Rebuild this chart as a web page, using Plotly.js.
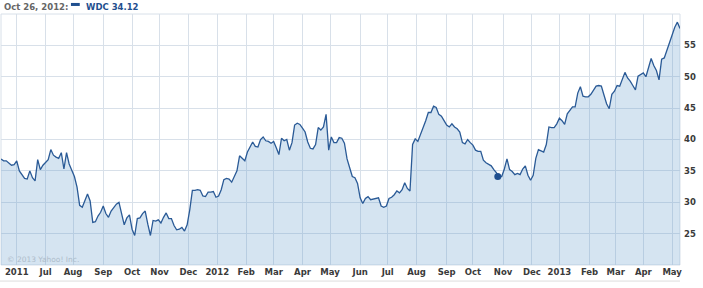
<!DOCTYPE html>
<html>
<head>
<meta charset="utf-8">
<script src="https://cdn.plot.ly/plotly-3.0.1.min.js"></script>
<style>
  html, body { margin: 0; padding: 0; background: #fff; }
  #chart { width: 703px; height: 288px; }
</style>
</head>
<body>
<div id="chart"></div>
<script>
// ---- data ----
const symbol = 'WDC';
const hoverDate = '2012-10-26';
const hoverLabel = 'Oct 26, 2012:';
const hoverValue = 34.12;

const dates = [
  '2011-05-16','2011-05-18','2011-05-20','2011-05-24','2011-05-26','2011-05-30',
  '2011-06-01','2011-06-03','2011-06-07','2011-06-09','2011-06-13',
  '2011-06-15','2011-06-17','2011-06-21','2011-06-23','2011-06-27',
  '2011-06-29','2011-07-01','2011-07-05','2011-07-07','2011-07-11',
  '2011-07-13','2011-07-15','2011-07-19','2011-07-21','2011-07-25',
  '2011-07-27','2011-07-29','2011-08-02','2011-08-04','2011-08-08',
  '2011-08-10','2011-08-12','2011-08-16','2011-08-18','2011-08-22',
  '2011-08-24','2011-08-26','2011-08-30','2011-09-01','2011-09-05',
  '2011-09-07','2011-09-09','2011-09-13','2011-09-15','2011-09-19',
  '2011-09-21','2011-09-23','2011-09-27','2011-09-29','2011-10-03',
  '2011-10-05','2011-10-07','2011-10-11','2011-10-13','2011-10-17',
  '2011-10-19','2011-10-21','2011-10-25','2011-10-27','2011-10-31',
  '2011-11-02','2011-11-04','2011-11-08','2011-11-10','2011-11-14',
  '2011-11-16','2011-11-18','2011-11-22','2011-11-24','2011-11-28',
  '2011-11-30','2011-12-02','2011-12-06','2011-12-08','2011-12-12',
  '2011-12-14','2011-12-16','2011-12-20','2011-12-22','2011-12-26',
  '2011-12-28','2011-12-30','2012-01-03','2012-01-05','2012-01-09',
  '2012-01-11','2012-01-13','2012-01-17','2012-01-19','2012-01-23',
  '2012-01-25','2012-01-27','2012-01-31','2012-02-02','2012-02-06',
  '2012-02-08','2012-02-10','2012-02-14','2012-02-16','2012-02-20',
  '2012-02-22','2012-02-24','2012-02-28','2012-03-01','2012-03-05',
  '2012-03-07','2012-03-09','2012-03-13','2012-03-15','2012-03-19',
  '2012-03-21','2012-03-23','2012-03-27','2012-03-29','2012-04-02',
  '2012-04-04','2012-04-06','2012-04-10','2012-04-12','2012-04-16',
  '2012-04-18','2012-04-20','2012-04-24','2012-04-26','2012-04-30',
  '2012-05-02','2012-05-04','2012-05-08','2012-05-10','2012-05-14',
  '2012-05-16','2012-05-18','2012-05-22','2012-05-24','2012-05-28',
  '2012-05-30','2012-06-01','2012-06-05','2012-06-07','2012-06-11',
  '2012-06-13','2012-06-15','2012-06-19','2012-06-21','2012-06-25',
  '2012-06-27','2012-06-29','2012-07-03','2012-07-05','2012-07-09',
  '2012-07-11','2012-07-13','2012-07-17','2012-07-19','2012-07-23',
  '2012-07-25','2012-07-27','2012-07-31','2012-08-02','2012-08-06',
  '2012-08-08','2012-08-10','2012-08-14','2012-08-16','2012-08-20',
  '2012-08-22','2012-08-24','2012-08-28','2012-08-30','2012-09-03',
  '2012-09-05','2012-09-07','2012-09-11','2012-09-13','2012-09-17',
  '2012-09-19','2012-09-21','2012-09-25','2012-09-27','2012-10-01',
  '2012-10-03','2012-10-05','2012-10-09','2012-10-11','2012-10-15',
  '2012-10-17','2012-10-19','2012-10-23','2012-10-25','2012-10-26',
  '2012-10-31','2012-11-02','2012-11-06','2012-11-08','2012-11-12',
  '2012-11-14','2012-11-16','2012-11-20','2012-11-22','2012-11-26',
  '2012-11-28','2012-11-30','2012-12-04','2012-12-06','2012-12-10',
  '2012-12-12','2012-12-14','2012-12-18','2012-12-20','2012-12-24',
  '2012-12-26','2012-12-28','2013-01-01','2013-01-03','2013-01-07',
  '2013-01-09','2013-01-11','2013-01-15','2013-01-17','2013-01-21',
  '2013-01-23','2013-01-25','2013-01-29','2013-01-31','2013-02-04',
  '2013-02-06','2013-02-08','2013-02-12','2013-02-14','2013-02-18',
  '2013-02-20','2013-02-22','2013-02-26','2013-02-28','2013-03-04',
  '2013-03-06','2013-03-08','2013-03-12','2013-03-14','2013-03-18',
  '2013-03-20','2013-03-22','2013-03-26','2013-03-28','2013-04-01',
  '2013-04-03','2013-04-05','2013-04-09','2013-04-11','2013-04-15',
  '2013-04-17','2013-04-19','2013-04-23','2013-04-25','2013-04-29',
  '2013-05-01','2013-05-03','2013-05-07','2013-05-09'
];

const prices = [
  36.9,36.6,36.6,36.2,35.9,36.0,
  36.6,35.0,34.4,33.8,33.7,
  35.0,33.9,33.4,36.8,35.2,
  35.9,36.4,36.8,38.4,37.5,
  37.2,37.0,37.9,35.3,37.9,
  36.1,35.1,34.1,32.4,29.5,
  29.2,30.4,31.3,30.2,26.8,
  26.9,27.8,28.4,29.4,28.2,
  27.6,28.6,29.1,29.7,30.0,
  27.9,26.4,27.5,28.0,25.7,
  24.7,27.4,27.5,28.2,28.6,
  26.5,24.7,27.1,27.0,27.2,
  26.7,27.6,28.3,27.4,27.4,
  26.3,25.6,25.7,26.0,25.4,
  26.4,28.8,31.9,31.9,32.0,
  31.9,31.0,30.9,31.6,31.6,
  31.7,30.8,31.0,32.0,33.6,
  33.8,33.7,33.2,34.0,35.0,
  37.4,37.0,36.6,38.0,38.7,
  39.6,38.9,38.8,40.0,40.4,
  39.8,39.7,39.4,39.7,38.7,
  37.6,40.2,39.8,40.0,38.3,
  39.5,42.3,42.6,42.4,41.8,
  41.2,39.6,38.6,38.5,39.2,
  41.9,41.5,42.0,44.0,38.3,
  40.4,39.5,39.5,40.3,40.2,
  39.4,36.9,35.5,34.1,33.9,
  33.0,30.7,29.8,30.6,30.9,
  30.4,30.5,30.6,30.7,29.4,
  29.2,29.4,30.6,30.8,31.2,
  31.8,31.5,32.0,33.1,32.2,
  31.8,39.2,40.1,39.7,40.8,
  41.6,43.0,44.3,44.3,45.3,
  45.1,44.0,43.7,43.0,42.3,
  42.0,42.5,42.0,41.7,41.2,
  39.5,39.3,40.0,39.5,39.1,
  38.3,38.1,38.1,36.7,36.3,
  36.0,35.8,35.2,34.7,34.12,
  34.1,35.3,36.9,35.2,34.9,
  34.4,34.6,34.4,35.3,35.8,
  34.3,33.5,34.3,37.0,38.4,
  38.2,38.0,39.2,42.0,41.9,
  41.9,42.5,43.4,43.0,42.4,
  44.1,44.7,45.2,45.2,47.4,
  48.4,46.9,46.8,46.8,47.2,
  47.8,48.5,48.6,48.5,47.1,
  45.7,44.9,47.2,47.7,48.6,
  48.5,49.6,50.7,49.8,49.3,
  48.6,47.9,50.1,50.3,50.6,
  50.0,51.3,52.9,51.8,51.0,
  49.5,52.8,53.0,54.2,55.3,
  56.5,57.9,58.7,57.7
];

const tickDates = [
  '2011-06-01','2011-07-01','2011-08-01','2011-09-01','2011-10-03','2011-11-01',
  '2011-12-01','2012-01-02','2012-02-01','2012-03-01','2012-04-02','2012-05-01',
  '2012-06-01','2012-07-02','2012-08-01','2012-09-03','2012-10-01','2012-11-01',
  '2012-12-03','2013-01-01','2013-02-01','2013-03-01','2013-04-01','2013-05-01'
];
const tickLabels = [
  '2011','Jul','Aug','Sep','Oct','Nov','Dec','2012','Feb','Mar','Apr','May',
  'Jun','Jul','Aug','Sep','Oct','Nov','Dec','2013','Feb','Mar','Apr','May'
];
const yTicks = [25, 30, 35, 40, 45, 50, 55];

// ---- styling ----
const lineColor = '#2a5a96';
const gridColor = '#d8e0e9';
const labelFont = { family: 'DejaVu Sans, Verdana, sans-serif', size: 8.5, color: '#3a3a3a', weight: 'bold' };

const traces = [
  {
    type: 'scatter', mode: 'lines',
    x: dates, y: prices,
    line: { color: lineColor, width: 1.3 },
    fill: 'tozeroy', fillcolor: 'rgba(100,155,205,0.27)',
    hoverinfo: 'skip'
  },
  {
    type: 'scatter', mode: 'markers',
    x: [hoverDate], y: [hoverValue],
    marker: { color: '#1f4f8f', size: 7 },
    hoverinfo: 'skip'
  }
];

const layout = {
  width: 703, height: 288,
  margin: { l: 1, r: 23, t: 14, b: 23, pad: 0 },
  paper_bgcolor: '#ffffff', plot_bgcolor: '#ffffff',
  showlegend: false,
  xaxis: {
    type: 'date',
    range: [dates[0], dates[dates.length - 1]],
    rangebreaks: [{ bounds: ['sat', 'mon'] }],
    tickmode: 'array', tickvals: tickDates, ticktext: tickLabels,
    showgrid: true, gridcolor: gridColor, gridwidth: 1,
    zeroline: false, showline: false, ticks: '',
    tickfont: labelFont, fixedrange: true
  },
  yaxis: {
    side: 'right',
    range: [20, 60],
    tickmode: 'array', tickvals: yTicks,
    showgrid: true, gridcolor: gridColor, gridwidth: 1,
    zeroline: false, showline: false, ticks: '',
    ticklabelstandoff: 3,
    tickfont: labelFont, fixedrange: true
  },
  shapes: [
    { type: 'rect', xref: 'paper', yref: 'paper', x0: 0, x1: 1, y0: 0, y1: 1,
      line: { color: gridColor, width: 1 }, layer: 'below' },
    { type: 'line', xref: 'paper', yref: 'paper', x0: -0.002, x1: 1, y0: -0.064, y1: -0.064,
      line: { color: '#dddddd', width: 1 } },
    { type: 'rect', xref: 'paper', yref: 'paper', x0: 0.103, x1: 0.116, y0: 1.032, y1: 1.044,
      line: { width: 0 }, fillcolor: '#1f4f8f' }
  ],
  annotations: [
    { xref: 'paper', yref: 'paper', x: 0.002, y: 1.029, xanchor: 'left', yanchor: 'middle',
      text: hoverLabel, showarrow: false,
      font: { family: 'DejaVu Sans, Verdana, sans-serif', size: 8.5, color: '#666666', weight: 'bold' } },
    { xref: 'paper', yref: 'paper', x: 0.122, y: 1.029, xanchor: 'left', yanchor: 'middle',
      text: symbol + ' ' + hoverValue.toFixed(2), showarrow: false,
      font: { family: 'DejaVu Sans, Verdana, sans-serif', size: 8.5, color: '#1f4f8f', weight: 'bold' } },
    { xref: 'paper', yref: 'paper', x: 0.006, y: 0.02, xanchor: 'left', yanchor: 'middle',
      text: '© 2013 Yahoo! Inc.', showarrow: false,
      font: { family: 'DejaVu Sans, Verdana, sans-serif', size: 7.5, color: '#aebccb' } }
  ]
};

Plotly.newPlot('chart', traces, layout, { staticPlot: true, displayModeBar: false });
</script>
</body>
</html>
